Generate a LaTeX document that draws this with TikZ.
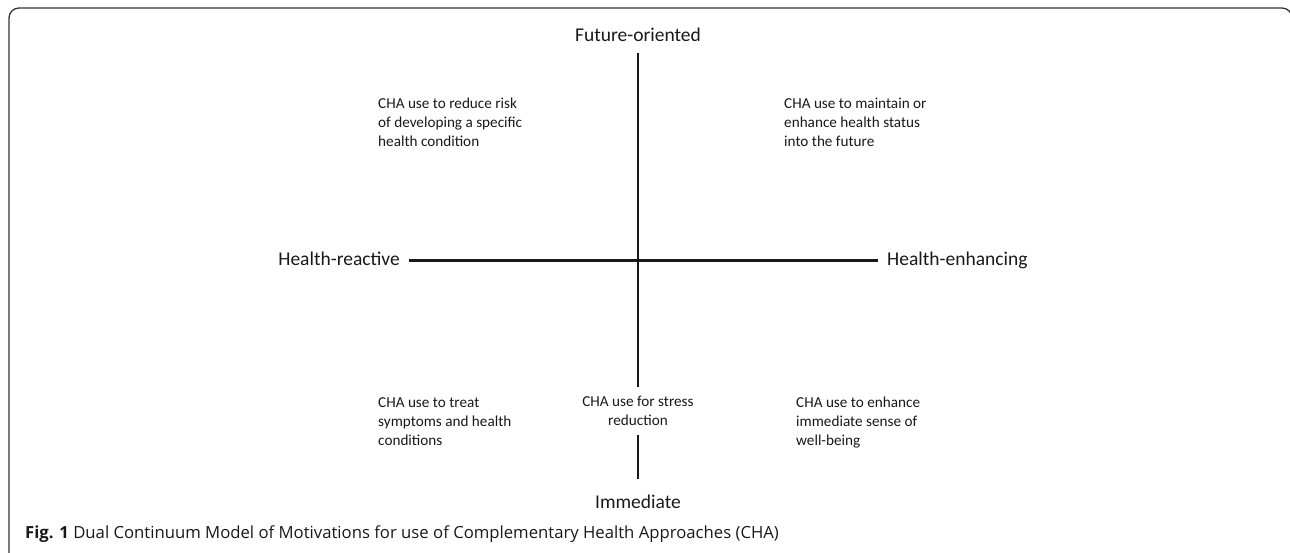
\documentclass[tikz,border=0pt]{standalone}
\usepackage{fontspec}
\setmainfont{Carlito}
\newfontfamily\capfont{Open Sans}
\usetikzlibrary{positioning}

\begin{document}
\begin{tikzpicture}
          [x=1pt, y=-1pt,
           every node/.style={inner sep=0pt, text=black!90},
           pole/.style={font=\fontsize{19.5}{23}\selectfont, text height=14pt, text depth=4pt},
           motive/.style={font=\fontsize{15.2}{19}\selectfont, align=left, anchor=north west},
           axis/.style={line width=2.2pt, black!90}]
          \useasboundingbox (0,0) rectangle (1290,553);
          \draw[line width=1.3pt, black!80, rounded corners=10pt] (9,8) rectangle (1292,590);

          \node (future) [pole, anchor=base] at (638,41.5) {Future-oriented};
          \node (immediate) [pole, anchor=base] at (638,508.5) {Immediate};
          \node (reactive) [pole, anchor=base east] at (400,265.5) {Health-reactive};
          \node (enhancing) [pole, anchor=base west] at (887,265.5) {Health-enhancing};

          \node (risk) [motive] at (378,98) {CHA use to reduce risk\\of developing a specific\\health condition};
          \node (maintain) [motive] at (784,98) {CHA use to maintain or\\enhance health status\\into the future};
          \node (treat) [motive] at (378,397) {CHA use to treat\\symptoms and health\\conditions};
          \node (stress) [motive, align=center, anchor=north] at (638,396) {CHA use for stress\\reduction};
          \node (wellbeing) [motive] at (796,397) {CHA use to enhance\\immediate sense of\\well-being};

          \draw[axis, shorten <=7.5pt, shorten >=9pt] (future) -- (stress);
          \draw[axis, shorten <=9pt, shorten >=15.5pt] (stress) -- (immediate);
          \draw[axis, shorten <=9pt, shorten >=9pt] (reactive) -- (enhancing);

          \node (caption) [anchor=base west, font=\capfont\fontsize{16.7}{20}\selectfont] at (25,538)
            {\textbf{Fig. 1} Dual Continuum Model of Motivations for use of Complementary Health Approaches (CHA)};
        \end{tikzpicture}
\end{document}
